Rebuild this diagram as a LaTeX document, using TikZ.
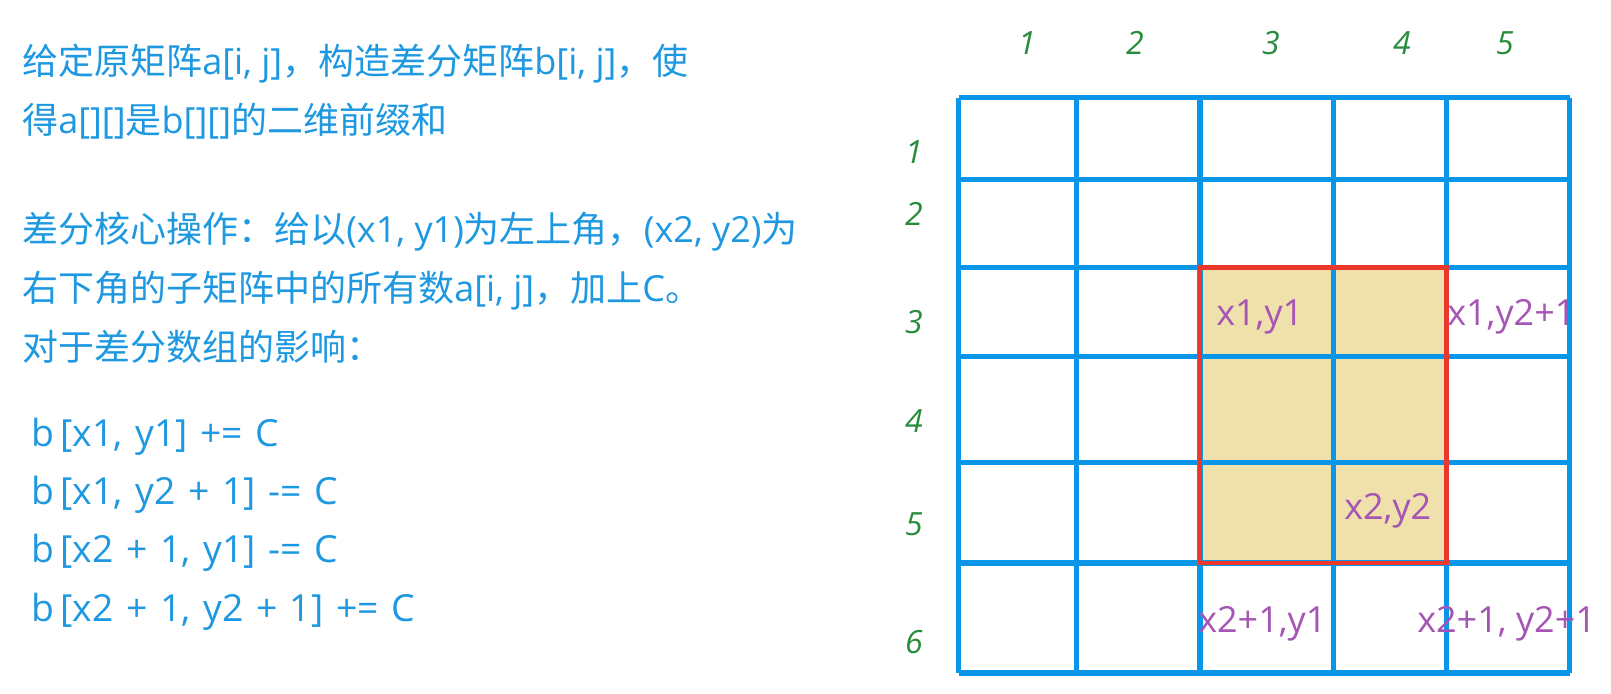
\documentclass[tikz,border=0pt]{standalone}
\usepackage{fontspec}
\setmainfont{Open Sans}
\newfontfamily\cjk{Noto Sans CJK SC}
\newfontfamily\opfont{Open Sans}[WordSpace=1.3]
\definecolor{noteBlue}{RGB}{30,152,224}
\definecolor{gridBlue}{RGB}{10,150,232}
\definecolor{boxRed}{RGB}{234,56,44}
\definecolor{cellTan}{RGB}{239,224,172}
\definecolor{labelPurple}{RGB}{165,85,180}
\definecolor{handGreen}{RGB}{40,140,60}
\begin{document}
\begin{tikzpicture}
[x=0.75pt,y=-0.75pt,
  noteText/.style={anchor=west,inner sep=0pt,text=noteBlue,font=\fontsize{27}{31}\selectfont},
  opText/.style={noteText,font=\fontsize{28}{32}\selectfont\opfont},
  cellLabel/.style={anchor=west,inner sep=0pt,text=labelPurple,font=\fontsize{27}{31}\selectfont},
  handNum/.style={inner sep=0pt,text=handGreen,font=\fontsize{24}{28}\selectfont\itshape},
  gridLine/.style={draw=gridBlue,line width=3.8pt},
  boxLine/.style={draw=boxRed,line width=3.6pt}]
\useasboundingbox (0,0) rectangle (1611,693);
\node[noteText] (line1) at (22,64) {{\cjk 给定原矩阵}a[i, j]{\cjk ，构造差分矩阵}b[i, j]{\cjk ，使}};
\node[noteText] (line2) at (22,121) {{\cjk 得}a[][]{\cjk 是}b[][]{\cjk 的二维前缀和}};
\node[noteText] (line3) at (22,232) {{\cjk 差分核心操作：给以}(x1, y1){\cjk 为左上角，}(x2, y2){\cjk 为}};
\node[noteText] (line4) at (22,291) {{\cjk 右下角的子矩阵中的所有数}a[i, j]{\cjk ，加上}C{\cjk 。}};
\node[noteText] (line5) at (22,347) {{\cjk 对于差分数组的影响：}};
\foreach \name/\ypos/\txt in {
  op1/437/{b\,[x1, y1] += C}, op2/495/{b\,[x1, y2 + 1] -= C},
  op3/553/{b\,[x2 + 1, y1] -= C}, op4/612/{b\,[x2 + 1, y2 + 1] += C}}
{
  \node[opText] (\name) at (31,\ypos) {\txt};
};
\fill[cellTan] (1200,267) rectangle (1446.6,563);
\foreach \xpos in {958.5,1076.7,1200,1333.6,1446.6,1569.9}
  \draw[gridLine] (\xpos,97.6) -- (\xpos,673);
\foreach \ypos in {97.6,179.8,267.1,356.5,462.3,563,673}
  \draw[gridLine] (958.5,\ypos) -- (1569.9,\ypos);
\draw[boxLine] (1200,267.1) rectangle (1446.6,563);
\foreach \name/\xpos/\num in {
  col1/1027/1, col2/1135/2, col3/1271/3, col4/1402/4, col5/1505/5}
{
  \node[handNum] (\name) at (\xpos,43) {\num};
};
\foreach \name/\ypos/\num in {
  row1/152/1, row2/214/2, row3/322/3, row4/421/4, row5/524/5, row6/642/6}
{
  \node[handNum] (\name) at (914,\ypos) {\num};
};
\node[cellLabel] (topLeft) at (1216,317) {x1,y1};
\node[cellLabel] (topRight) at (1447,317) {x1,y2+1};
\node[cellLabel] (botRight) at (1344,511) {x2,y2};
\node[cellLabel] (belowLeft) at (1198,624) {x2+1,y1};
\node[cellLabel] (belowRight) at (1417,624) {x2+1, y2+1};
\end{tikzpicture}
\end{document}
